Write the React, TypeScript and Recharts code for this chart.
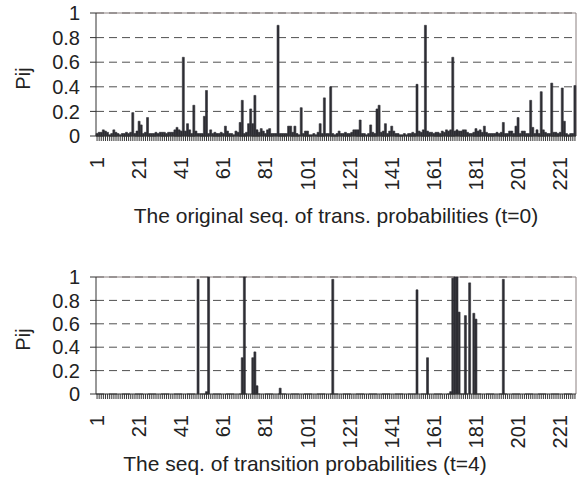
import React from 'react';
import { BarChart, Bar, XAxis, YAxis, CartesianGrid } from 'recharts';

const seqNumbers: number[] = Array.from({ length: 228 }, (_, i) => i + 1);

const originalProbs: number[] = [
  0.02, 0.03, 0.03, 0.05, 0.04, 0.03, 0.01, 0.02, 0.05, 0.03,
  0.02, 0.01, 0.02, 0.02, 0.03, 0.02, 0.03, 0.19, 0.02, 0.04,
  0.12, 0.09, 0.02, 0.03, 0.15, 0.02, 0.02, 0.02, 0.03, 0.02,
  0.03, 0.03, 0.03, 0.02, 0.03, 0.03, 0.03, 0.05, 0.07, 0.05,
  0.04, 0.64, 0.04, 0.10, 0.05, 0.02, 0.25, 0.04, 0.02, 0.02,
  0.02, 0.16, 0.37, 0.02, 0.05, 0.02, 0.03, 0.02, 0.02, 0.03,
  0.02, 0.08, 0.04, 0.02, 0.02, 0.01, 0.04, 0.03, 0.11, 0.29,
  0.02, 0.03, 0.10, 0.22, 0.10, 0.33, 0.05, 0.03, 0.06, 0.04,
  0.02, 0.05, 0.06, 0.02, 0.02, 0.02, 0.90, 0.02, 0.02, 0.02,
  0.02, 0.08, 0.08, 0.03, 0.08, 0.02, 0.01, 0.23, 0.02, 0.04,
  0.04, 0.01, 0.01, 0.02, 0.01, 0.03, 0.10, 0.02, 0.31, 0.02,
  0.02, 0.40, 0.02, 0.01, 0.02, 0.04, 0.02, 0.02, 0.03, 0.02,
  0.02, 0.03, 0.05, 0.05, 0.05, 0.13, 0.02, 0.02, 0.01, 0.02,
  0.09, 0.03, 0.02, 0.22, 0.25, 0.03, 0.04, 0.10, 0.02, 0.04,
  0.08, 0.04, 0.02, 0.02, 0.01, 0.01, 0.02, 0.01, 0.02, 0.02,
  0.03, 0.02, 0.42, 0.04, 0.03, 0.05, 0.90, 0.04, 0.03, 0.03,
  0.02, 0.03, 0.03, 0.02, 0.04, 0.03, 0.05, 0.04, 0.05, 0.64,
  0.04, 0.05, 0.04, 0.04, 0.05, 0.05, 0.03, 0.02, 0.02, 0.03,
  0.06, 0.04, 0.05, 0.03, 0.08, 0.03, 0.02, 0.02, 0.02, 0.02,
  0.03, 0.02, 0.03, 0.11, 0.02, 0.02, 0.04, 0.04, 0.02, 0.08,
  0.15, 0.02, 0.04, 0.04, 0.02, 0.02, 0.29, 0.07, 0.02, 0.05,
  0.02, 0.36, 0.05, 0.03, 0.02, 0.02, 0.43, 0.03, 0.03, 0.02,
  0.03, 0.39, 0.12, 0.02, 0.01, 0.02, 0.02, 0.41,
];

// t=4: all zero except these positions
const t4Positions: number[] = [49, 53, 54, 70, 71, 75, 76, 77, 88, 113, 153, 158, 169, 170, 171, 172, 173, 176, 178, 180, 181, 194];
const t4Values: number[] = [0.98, 0.02, 1.0, 0.31, 1.0, 0.31, 0.36, 0.07, 0.05, 0.98, 0.89, 0.31, 0.02, 0.99, 1.0, 1.0, 0.7, 0.67, 0.95, 0.69, 0.64, 0.98];

const yTicks: number[] = [0, 0.2, 0.4, 0.6, 0.8, 1];

const topTitle = 'The original seq. of trans. probabilities (t=0)';
const bottomTitle = 'The seq. of transition probabilities (t=4)';
const yTitle = 'Pij';

const data = seqNumbers.map((s, i) => {
  const k = t4Positions.indexOf(s);
  return { seq: s, p0: originalProbs[i], p4: k >= 0 ? t4Values[k] : 0 };
});

const FONT = '"Liberation Sans", Arial, sans-serif';
const TEXT = '#222';
const AXIS = '#333';
const BAR = '#2e2e34';
const BORDER = '#8b8080';

const SeqTick = (props: any) => {
  const { x, y, payload } = props;
  const v = payload.value;
  const show = (v - 1) % 20 === 0;
  const ly = y + 21;
  return (
    <g>
      <line x1={x} y1={y} x2={x} y2={y + 5} stroke={AXIS} strokeWidth={1} />
      {show && (
        <text
          x={x}
          y={ly}
          transform={`rotate(-90 ${x} ${ly})`}
          textAnchor="end"
          dominantBaseline="central"
          fontSize={20}
          fontFamily={FONT}
          fill={TEXT}
        >
          {v}
        </text>
      )}
    </g>
  );
};

const Panel = ({ dataKey, height, marginTop, xHeight, title, titleOffset, titleDx }: any) => (
  <BarChart
    width={579}
    height={height}
    data={data}
    margin={{ top: marginTop, right: 3, bottom: 0, left: 0 }}
    barCategoryGap={0}
    barGap={0}
  >
    <CartesianGrid vertical={false} stroke="#505050" strokeDasharray="8 5" />
    <CartesianGrid
      stroke={BORDER}
      horizontalCoordinatesGenerator={(p: any) => [p.offset.top]}
      verticalCoordinatesGenerator={(p: any) => [p.offset.left + p.offset.width]}
    />
    <XAxis
      dataKey="seq"
      interval={0}
      tick={<SeqTick />}
      tickLine={false}
      tickSize={0}
      tickMargin={0}
      height={xHeight}
      axisLine={{ stroke: AXIS }}
      label={{
        value: title,
        position: 'insideBottom',
        offset: titleOffset,
        dx: titleDx,
        fontSize: 21,
        fontFamily: FONT,
        fill: TEXT,
      }}
    />
    <YAxis
      domain={[0, 1]}
      ticks={yTicks}
      interval={0}
      width={96}
      tickSize={6}
      tickMargin={10}
      axisLine={{ stroke: AXIS }}
      tickLine={{ stroke: AXIS }}
      tick={{ fontSize: 20, fontFamily: FONT, fill: TEXT }}
      label={{
        value: yTitle,
        angle: -90,
        position: 'center',
        dx: -25,
        dy: 4,
        fontSize: 20,
        fontFamily: FONT,
        fill: TEXT,
      }}
    />
    <Bar dataKey={dataKey} fill={BAR} stroke={BAR} strokeWidth={0.6} isAnimationActive={false} />
  </BarChart>
);

export default function App() {
  return (
    <div style={{ position: 'absolute', left: 0, top: 0, width: 579, height: 477, background: '#fff' }}>
      <Panel dataKey="p0" height={240} marginTop={13} xHeight={104} title={topTitle} titleOffset={17} titleDx={0} />
      <Panel dataKey="p4" height={237} marginTop={37} xHeight={83} title={bottomTitle} titleOffset={6} titleDx={-31} />
    </div>
  );
}
